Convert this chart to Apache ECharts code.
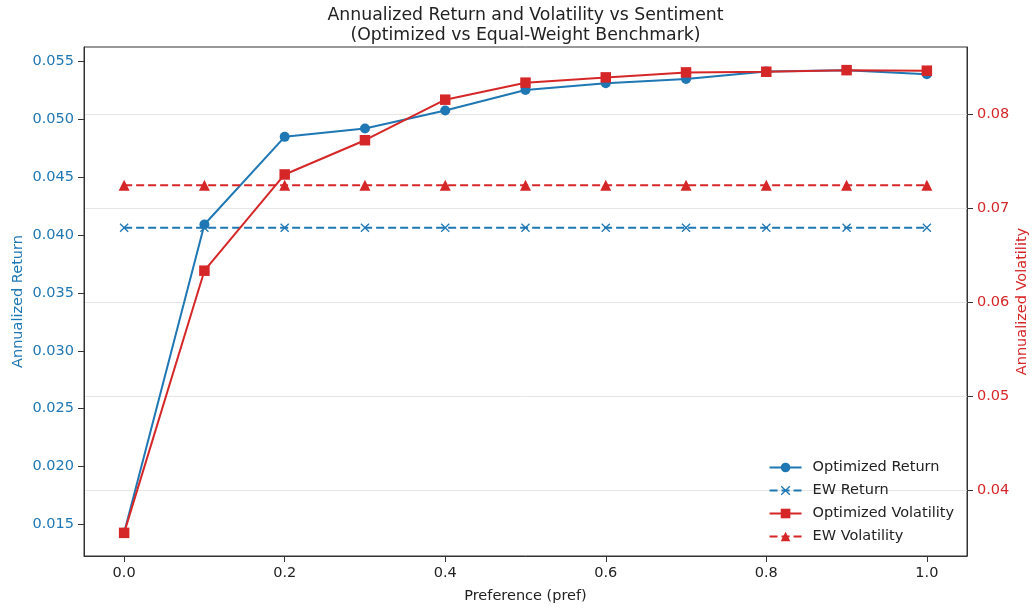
<!DOCTYPE html>
<html>
<head>
<meta charset="utf-8">
<script src="https://cdn.jsdelivr.net/npm/echarts@6/dist/echarts.min.js"></script>
<style>
html,body{margin:0;padding:0;background:#fff;}
#chart{width:1034px;height:609px;}
</style>
</head>
<body>
<div id="chart"></div>
<script>
const prefs = [0.0, 0.1, 0.2, 0.3, 0.4, 0.5, 0.6, 0.7, 0.8, 0.9, 1.0];
const optReturn = [0.01425, 0.04092, 0.04850, 0.04922, 0.05078, 0.05256, 0.05314, 0.05351, 0.05415, 0.05427, 0.05392];
const ewReturn = [0.04064, 0.04064, 0.04064, 0.04064, 0.04064, 0.04064, 0.04064, 0.04064, 0.04064, 0.04064, 0.04064];
const optVol = [0.03551, 0.06338, 0.07361, 0.07725, 0.08156, 0.08337, 0.08393, 0.08446, 0.08453, 0.08470, 0.08464];
const ewVol = [0.07247, 0.07247, 0.07247, 0.07247, 0.07247, 0.07247, 0.07247, 0.07247, 0.07247, 0.07247, 0.07247];
const xTicks = [0.0, 0.2, 0.4, 0.6, 0.8, 1.0];
const leftTicks = [0.015, 0.020, 0.025, 0.030, 0.035, 0.040, 0.045, 0.050, 0.055];
const rightTicks = [0.04, 0.05, 0.06, 0.07, 0.08];

const BLUE = '#1f77b4', RED = '#d62728', INK = '#222';
const FONT = 'DejaVu Sans';
const FS = 14.5;

function pad(arrs) {
  const all = [].concat(...arrs);
  const lo = Math.min(...all), hi = Math.max(...all), m = (hi - lo) * 0.05;
  return [lo - m, hi + m];
}
const leftExt = pad([optReturn, ewReturn]);
const rightExt = pad([optVol, ewVol]);
const xExt = pad([prefs]);

const pairs = vals => prefs.map((p, i) => [p, vals[i]]);
const XSYM = 'path://M1,0 L5,4 L9,0 L10,1 L6,5 L10,9 L9,10 L5,6 L1,10 L0,9 L4,5 L0,1 Z';
const AXLINE = {show: true, onZero: false, lineStyle: {color: '#333', width: 1}};

const chart = echarts.init(document.getElementById('chart'), null, {renderer: 'canvas'});
chart.setOption({
  animation: false,
  backgroundColor: '#fff',
  textStyle: {fontFamily: FONT},
  title: {
    text: 'Annualized Return and Volatility vs Sentiment\n(Optimized vs Equal-Weight Benchmark)',
    left: 525.5,
    top: 6,
    padding: 0,
    textAlign: 'center',
    textStyle: {fontFamily: FONT, fontSize: 17.3, fontWeight: 'normal', color: INK, lineHeight: 20}
  },
  grid: {left: 84, right: 67, top: 47, bottom: 53, outerBoundsMode: 'none', containLabel: false,
         show: true, borderColor: '#333', borderWidth: 1, backgroundColor: 'transparent'},
  legend: {
    orient: 'vertical', right: 75, bottom: 60,
    itemWidth: 32, itemHeight: 12, itemGap: 8,
    textStyle: {fontFamily: FONT, fontSize: FS, color: INK, padding: [0, 0, 0, 6]},
    data: ['Optimized Return', 'EW Return', 'Optimized Volatility', 'EW Volatility']
  },
  xAxis: {
    type: 'value', min: xExt[0], max: xExt[1],
    name: 'Preference (pref)', nameLocation: 'middle', nameGap: 33, nameMoveOverlap: false,
    nameTextStyle: {fontFamily: FONT, fontSize: FS, color: INK},
    axisLine: AXLINE,
    axisTick: {show: true, inside: false, length: 6, customValues: xTicks, lineStyle: {color: '#333', width: 1}},
    axisLabel: {customValues: xTicks, margin: 10, fontFamily: FONT, fontSize: FS, color: INK, formatter: v => v.toFixed(1)},
    splitLine: {show: false}
  },
  yAxis: [
    {
      type: 'value', position: 'left', min: leftExt[0], max: leftExt[1],
      name: 'Annualized Return', nameLocation: 'middle', nameGap: 58, nameRotate: 90, nameMoveOverlap: false,
      nameTextStyle: {fontFamily: FONT, fontSize: FS, color: BLUE},
      axisLine: AXLINE,
      axisTick: {show: true, inside: false, length: 6, customValues: leftTicks, lineStyle: {color: '#333', width: 1}},
      axisLabel: {customValues: leftTicks, margin: 10, fontFamily: FONT, fontSize: FS, color: BLUE, formatter: v => v.toFixed(3)},
      splitLine: {show: false}
    },
    {
      type: 'value', position: 'right', min: rightExt[0], max: rightExt[1],
      name: 'Annualized Volatility', nameLocation: 'middle', nameGap: 48, nameRotate: 90, nameMoveOverlap: false,
      nameTextStyle: {fontFamily: FONT, fontSize: FS, color: RED},
      axisLine: AXLINE,
      axisTick: {show: true, inside: false, length: 6, customValues: rightTicks, lineStyle: {color: '#333', width: 1}},
      axisLabel: {customValues: rightTicks, margin: 10, fontFamily: FONT, fontSize: FS, color: RED, formatter: v => v.toFixed(2)},
      splitLine: {show: true, lineStyle: {color: '#e6e6e6', width: 1}}
    }
  ],
  series: [
    {
      name: 'Optimized Return', type: 'line', yAxisIndex: 0, data: pairs(optReturn),
      symbol: 'circle', symbolSize: 10, color: BLUE,
      lineStyle: {color: BLUE, width: 2}, itemStyle: {color: BLUE}
    },
    {
      name: 'EW Return', type: 'line', yAxisIndex: 0, data: pairs(ewReturn),
      symbol: XSYM, symbolSize: 9, color: BLUE,
      lineStyle: {color: BLUE, width: 2, type: [8, 4]}, itemStyle: {color: BLUE}
    },
    {
      name: 'Optimized Volatility', type: 'line', yAxisIndex: 1, data: pairs(optVol),
      symbol: 'rect', symbolSize: 10.5, color: RED,
      lineStyle: {color: RED, width: 2}, itemStyle: {color: RED}
    },
    {
      name: 'EW Volatility', type: 'line', yAxisIndex: 1, data: pairs(ewVol),
      symbol: 'triangle', symbolSize: 11, color: RED,
      lineStyle: {color: RED, width: 2, type: [8, 4]}, itemStyle: {color: RED}
    }
  ]
});
</script>
</body>
</html>
